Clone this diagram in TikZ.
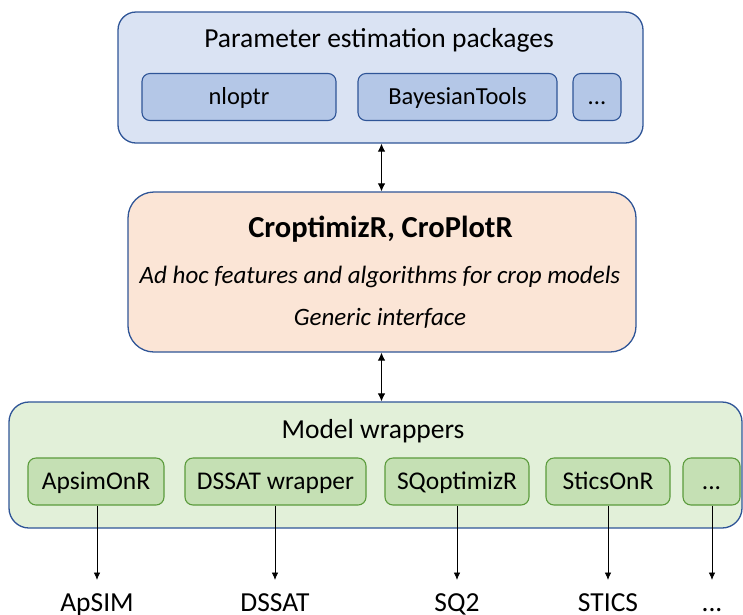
\documentclass[tikz,border=0pt]{standalone}
\usepackage{fontspec}
\setmainfont{Carlito}
\usetikzlibrary{arrows.meta}
\definecolor{bluefill}{HTML}{DAE3F3}
\definecolor{blueinner}{HTML}{B4C7E7}
\definecolor{blueline}{HTML}{2F5597}
\definecolor{orangefill}{HTML}{FBE5D6}
\definecolor{greenfill}{HTML}{E2F0D9}
\definecolor{greeninner}{HTML}{C5E0B4}
\definecolor{greenline}{HTML}{5B9B3C}
\tikzset{
  outerbox/.style={draw=blueline, line width=1.3pt, rounded corners=18pt, inner sep=0pt},
  bluebox/.style={draw=blueline, fill=blueinner, line width=1.1pt, rounded corners=8pt, minimum height=47pt, inner sep=0pt, text height=15.8pt, text depth=0pt, font=\fontsize{24.5}{28}\selectfont},
  greenbox/.style={draw=greenline, fill=greeninner, line width=1.1pt, rounded corners=8pt, minimum height=47pt, inner sep=0pt, text height=16.4pt, text depth=0pt, font=\fontsize{25.5}{28}\selectfont},
  titletext/.style={font=\fontsize{27.5}{30}\selectfont, inner sep=0pt, anchor=base},
  boldtext/.style={font=\fontsize{30.5}{34}\selectfont\bfseries, inner sep=0pt, anchor=base},
  ittext/.style={font=\fontsize{25}{28}\selectfont\itshape, inner sep=0pt, anchor=base},
  modeltext/.style={font=\fontsize{27.5}{30}\selectfont, inner sep=0pt, anchor=base},
  conn/.style={-{Latex[length=7.5pt,width=6.5pt]}, line width=0.8pt},
  dconn/.style={{Latex[length=8pt,width=7.5pt]}-{Latex[length=8pt,width=7.5pt]}, line width=0.9pt},
}
\begin{document}
\begin{tikzpicture}[x=1pt,y=-1pt]
\useasboundingbox (0,0) rectangle (743,614);
% top box
\node[outerbox, fill=bluefill, minimum width=525pt, minimum height=131pt] (pep) at (380.5,77.5) {};
\node[titletext] (peptitle) at (379,47) {Parameter estimation packages};
\node[bluebox, minimum width=194pt] (nlo) at (239,97) {nloptr};
\node[bluebox, minimum width=199pt] (bay) at (457.5,97) {BayesianTools};
\node[bluebox, minimum width=48pt] (pdots) at (597,97) {...};
% middle box
\node[outerbox, fill=orangefill, rounded corners=26pt, minimum width=508pt, minimum height=160pt] (crop) at (382,272) {};
\node[boldtext] (croptitle) at (380.5,237) {CroptimizR, CroPlotR};
\node[ittext] (adhoc) at (380,283) {Ad hoc features and algorithms for crop models};
\node[ittext] (generic) at (380,325) {Generic interface};
% bottom box
\node[outerbox, fill=greenfill, rounded corners=20pt, minimum width=733pt, minimum height=126pt] (mw) at (375.5,465) {};
\node[titletext] (mwtitle) at (373,438) {Model wrappers};
\node[greenbox, minimum width=136pt] (apsimr) at (96,481.5) {ApsimOnR};
\node[greenbox, minimum width=181pt] (dssatw) at (275.5,481.5) {DSSAT wrapper};
\node[greenbox, minimum width=144pt] (sqopt) at (457,481.5) {SQoptimizR};
\node[greenbox, minimum width=124pt] (stics) at (608,481.5) {SticsOnR};
\node[greenbox, minimum width=57pt] (wdots) at (711.5,481.5) {...};
% model labels
\node[modeltext] (apsim) at (97,611) {ApSIM};
\node[modeltext] (dssat) at (275,611) {DSSAT};
\node[modeltext] (sq2) at (457,611) {SQ2};
\node[modeltext] (sticsl) at (608,611) {STICS};
\node[modeltext] (mdots) at (712,611) {...};
% connectors
\draw[dconn] (pep.south -| 381.5,0) -- (crop.north -| 381.5,0);
\draw[dconn] (crop.south -| 381.5,0) -- (mw.north -| 381.5,0);
\coordinate (a1) at (97,580);
\coordinate (a2) at (275,580);
\coordinate (a3) at (457,580);
\coordinate (a4) at (608,580);
\coordinate (a5) at (712,580);
\draw[conn] (apsimr.south -| a1) -- (a1);
\draw[conn] (dssatw.south -| a2) -- (a2);
\draw[conn] (sqopt.south -| a3) -- (a3);
\draw[conn] (stics.south -| a4) -- (a4);
\draw[conn] (wdots.south -| a5) -- (a5);
\end{tikzpicture}
\end{document}
